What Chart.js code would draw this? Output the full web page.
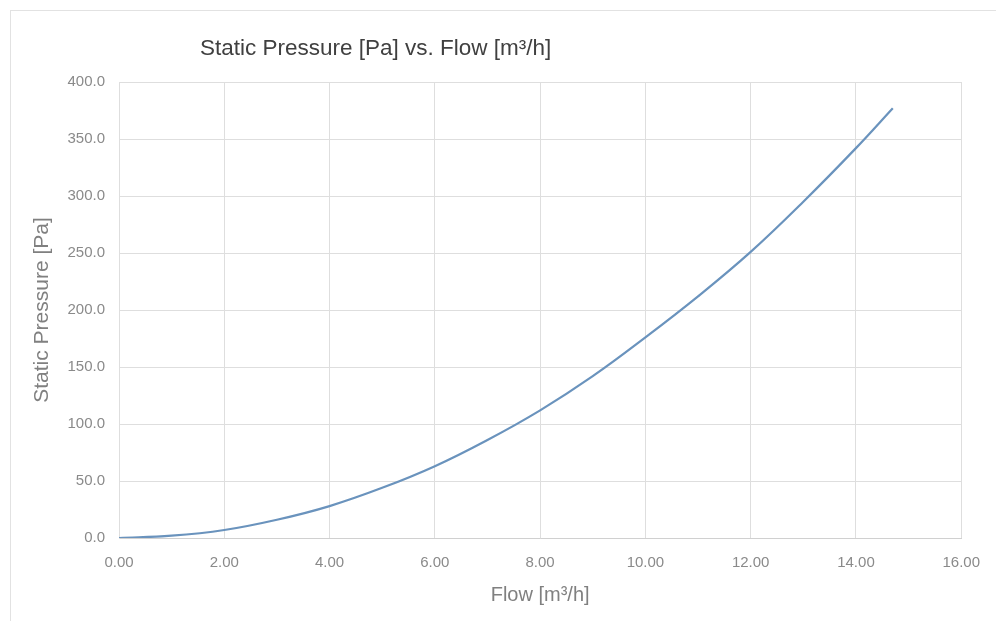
<!DOCTYPE html>
<html>
<head>
<meta charset="utf-8">
<script src="https://cdn.jsdelivr.net/npm/chart.js@4"></script>
<style>
  html, body { margin: 0; padding: 0; background: #fff; }
  #wrap { position: relative; width: 996px; height: 621px; }
  #frame { position: absolute; left: 10px; top: 10px; width: 1000px; height: 700px;
           border-left: 1px solid #e2e2e2; border-top: 1px solid #e2e2e2; }
</style>
</head>
<body>
<div id="wrap">
  <div id="frame"></div>
  <canvas id="js-canvas-fan" width="996" height="621"></canvas>
</div>
<script>
// flow along the x-axis [m³/h]
const flow = [0, 1, 2, 3, 4, 5, 6, 7, 8, 9, 10, 11, 12, 13, 14, 14.7];
// static pressure [Pa]
const pressure = [0, 2, 7, 16, 28, 44, 63, 86, 112, 142, 176, 212, 251, 295, 342, 377];
// axis ranges
const xTicks = [0, 2, 4, 6, 8, 10, 12, 14, 16];
const yTicks = [0, 50, 100, 150, 200, 250, 300, 350, 400];

const titleText = 'Static Pressure [Pa] vs. Flow [m³/h]';

// title sits left of centre like the Excel chart, so draw it ourselves
const leftTitle = {
  id: 'leftTitle',
  afterDraw(chart) {
    const c = chart.ctx;
    c.save();
    c.font = '22.5px "Liberation Sans", Arial, sans-serif';
    c.fillStyle = '#404040';
    c.textBaseline = 'middle';
    c.textAlign = 'left';
    c.fillText(titleText, 200, 49);
    c.restore();
  }
};

const ctx = document.getElementById('js-canvas-fan');
if (ctx) {
  new Chart(ctx, {
    type: 'scatter',
    data: {
      datasets: [{
        data: flow.map((f, i) => ({ x: f, y: pressure[i] })),
        showLine: true,
        borderColor: '#6a93bd',
        borderWidth: 2.2,
        pointRadius: 0,
        tension: 0.4,
        fill: false
      }]
    },
    options: {
      responsive: false,
      animation: false,
      layout: { padding: { top: 82, right: 33, left: 0, bottom: 0 } },
      plugins: {
        legend: { display: false },
        tooltip: { enabled: false }
      },
      scales: {
        x: {
          type: 'linear',
          min: xTicks[0],
          max: xTicks[xTicks.length - 1],
          afterBuildTicks: (s) => { s.ticks = xTicks.map(v => ({ value: v })); },
          afterFit: (s) => { s.height = 83; },
          grid: { color: '#dedede', lineWidth: 1, drawTicks: false },
          border: { color: '#d0d0d0' },
          ticks: {
            padding: 16,
            color: '#8a8a8a',
            font: { family: '"Liberation Sans", Arial, sans-serif', size: 15 },
            callback: (v) => Number(v).toFixed(2)
          },
          title: {
            display: true,
            text: 'Flow [m³/h]',
            color: '#808080',
            font: { family: '"Liberation Sans", Arial, sans-serif', size: 20 },
            padding: { top: 0, bottom: 14 }
          }
        },
        y: {
          type: 'linear',
          min: yTicks[0],
          max: yTicks[yTicks.length - 1],
          afterBuildTicks: (s) => { s.ticks = yTicks.map(v => ({ value: v })); },
          afterFit: (s) => { s.width = 119; },
          grid: { color: '#dedede', lineWidth: 1, drawTicks: false },
          border: { color: '#dedede' },
          ticks: {
            padding: 14,
            color: '#8a8a8a',
            font: { family: '"Liberation Sans", Arial, sans-serif', size: 15 },
            callback: (v) => Number(v).toFixed(1)
          },
          title: {
            display: true,
            text: 'Static Pressure [Pa]',
            color: '#808080',
            font: { family: '"Liberation Sans", Arial, sans-serif', size: 21 },
            padding: { top: 30, bottom: 0 }
          }
        }
      }
    },
    plugins: [leftTitle]
  });
}
</script>
</body>
</html>
